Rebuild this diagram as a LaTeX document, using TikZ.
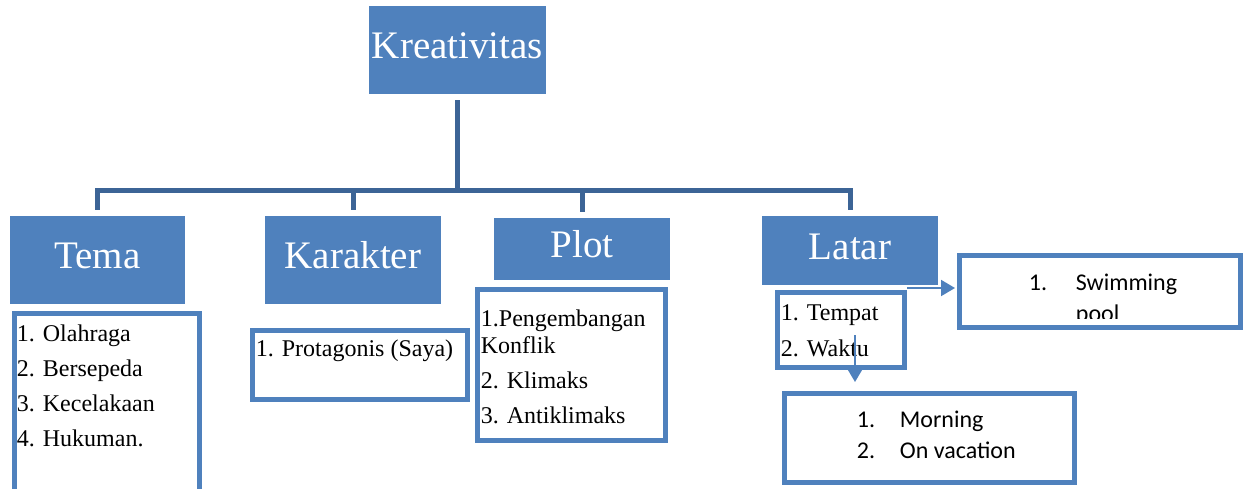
\documentclass[tikz,border=0pt]{standalone}
\usepackage{fontspec}
\setmainfont{Liberation Serif}
\newfontfamily\calibriFont{Carlito}
\usepackage[svgnames]{xcolor}
\usepackage{tikz}
\usetikzlibrary{arrows.meta}
\definecolor{accentBlue}{HTML}{4F81BD}
\definecolor{connectorBlue}{HTML}{3C6496}
\colorlet{headerFill}{accentBlue}
\colorlet{listBorder}{accentBlue}
\colorlet{treeLine}{connectorBlue}
\newcommand\topstrut{\rule{0pt}{12pt}}
\newcommand\numitem[2]{\makebox[#1][l]{#2}}
\tikzset{
  header/.style={fill=headerFill,text=white,inner sep=0pt,outer sep=0pt,
    text height=13.5pt,text depth=5pt,font=\fontsize{19.5pt}{23pt}\selectfont},
  list box/.style={draw=listBorder,line width=2.5pt,fill=white,anchor=north west,
    inner sep=0pt,outer sep=0pt},
  list text/.style={anchor=north west,align=left,inner sep=0pt,
    font=\fontsize{12pt}{13.5pt}\selectfont},
  sans text/.style={anchor=north west,align=left,inner sep=0pt,
    font=\calibriFont\fontsize{12pt}{15.5pt}\selectfont},
  tree line/.style={draw=treeLine,line width=2.5pt},
  flow arrow/.style={draw=listBorder,line width=1pt,-{Triangle[length=7pt,width=8pt]}},
}

\begin{document}
\begin{tikzpicture}[x=0.5pt,y=-0.5pt]
\useasboundingbox (0,0) rectangle (1246,488);
\clip (0,0) rectangle (1246,488);

\node[header,minimum width=88.5pt,minimum height=44pt] (kreat) at (457.5,50) {Kreativitas};
\node[header,minimum width=87.5pt,minimum height=44pt] (tema) at (97.5,260) {Tema};
\node[header,minimum width=88pt,minimum height=44pt] (karakter) at (353,260) {Karakter};
\node[header,minimum width=88pt,minimum height=31pt] (plot) at (582,249) {Plot};
\node[header,minimum width=88pt,minimum height=34.5pt] (latar) at (850,250.5) {Latar};

\node[list box,minimum width=92.5pt,minimum height=93.25pt] (temaL) at (14.5,313.5) {};
\node[list box,minimum width=107.5pt,minimum height=34.5pt] (karakterL) at (252.5,330.5) {};
\node[list box,minimum width=94pt,minimum height=75.5pt] (plotL) at (477.5,289.5) {};
\node[list box,minimum width=63.5pt,minimum height=37.5pt] (latarL) at (777.5,292.5) {};
\node[list box,minimum width=140.5pt,minimum height=36pt] (swim) at (959.5,255.5) {};
\node[list box,minimum width=145pt,minimum height=44.5pt] (morning) at (784.5,393.5) {};

\node[list text] (temaT) at (16.5,317) {\topstrut 1. Olahraga\\[4pt] 2. Bersepeda\\[4pt]
  3. Kecelakaan\\[4pt] 4. Hukuman.};
\node[list text] (karakterT) at (255.5,332) {\topstrut 1. Protagonis (Saya)};
\node[list text] (plotT) at (480.5,302) {\topstrut 1.Pengembangan\\ Konflik\\[4pt]
  2. Klimaks\\[4pt] 3. Antiklimaks};
\node[list text] (latarT) at (780.5,296) {\topstrut 1. Tempat\\[4.5pt] 2. Waktu};
\begin{scope}
  \clip (swim.north west) rectangle ([yshift=4.75pt]swim.south east);
  \node[sans text] (swimT) at (1028.5,266) {\topstrut\numitem{23.5pt}{1.}Swimming\\
    \hspace*{23.5pt}pool};
\end{scope}
\node[sans text] (morningT) at (856.5,403) {\topstrut\numitem{21.5pt}{1.}Morning\\
  \numitem{21.5pt}{2.}On vacation};

\coordinate (hub) at (457.5,190);
\draw[tree line,shorten <=3pt] (kreat.south) -- (hub);
\foreach \child in {tema,karakter,plot,latar}
  \draw[tree line,shorten >=3pt] (hub) -| (\child.north);

\coordinate (tempatTail) at (907,288);
\coordinate (waktuTail) at (855,335);
\draw[flow arrow,shorten >=2.25pt] (tempatTail) -- (tempatTail -| swim.west);
\draw[flow arrow,shorten >=5.75pt] (waktuTail) -- (waktuTail |- morning.north);
\end{tikzpicture}
\end{document}
